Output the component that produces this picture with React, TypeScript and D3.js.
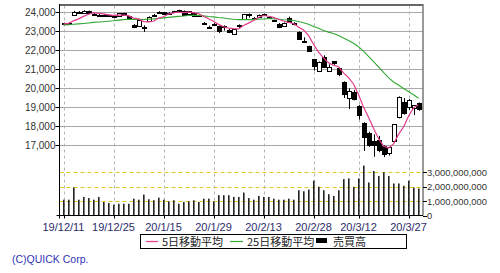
import React from "react";
import * as d3 from "d3";

const dates = [
  "2019-12-11","2019-12-12","2019-12-13","2019-12-16","2019-12-17","2019-12-18","2019-12-19","2019-12-20","2019-12-23","2019-12-24","2019-12-25","2019-12-26","2019-12-27","2019-12-30",
  "2020-01-06","2020-01-07","2020-01-08","2020-01-09","2020-01-10","2020-01-14","2020-01-15","2020-01-16","2020-01-17","2020-01-20","2020-01-21","2020-01-22","2020-01-23","2020-01-24","2020-01-27","2020-01-28","2020-01-29","2020-01-30","2020-01-31",
  "2020-02-03","2020-02-04","2020-02-05","2020-02-06","2020-02-07","2020-02-10","2020-02-12","2020-02-13","2020-02-14","2020-02-17","2020-02-18","2020-02-19","2020-02-20","2020-02-21","2020-02-25","2020-02-26","2020-02-27","2020-02-28",
  "2020-03-02","2020-03-03","2020-03-04","2020-03-05","2020-03-06","2020-03-09","2020-03-10","2020-03-11","2020-03-12","2020-03-13","2020-03-16","2020-03-17","2020-03-18","2020-03-19","2020-03-23","2020-03-24","2020-03-25","2020-03-26","2020-03-27","2020-03-30","2020-03-31",
];

const opens = [
  23400,23420,23840,24010,23970,24050,23900,23860,23850,23850,23810,23800,23940,23770,
  23320,23260,23220,23530,23800,23950,23990,23960,24000,24080,24060,23900,23960,23800,23430,23160,23300,23250,23240,
  23050,22840,23290,23620,23900,23700,23720,23880,23750,23560,23380,23270,23700,23440,22950,22460,22200,21520,
  20880,21650,20900,21400,21050,20330,19480,19800,19060,18180,17650,17200,17250,16950,16570,17200,18450,19260,19020,18950,19220,
];
const highs = [
  23440,23470,24060,24050,24090,24080,23950,23900,23880,23870,23830,23930,23960,23780,
  23370,23580,23300,23770,23900,24040,24000,23990,24060,24120,24080,24050,23980,23850,23470,23280,23420,23280,23300,
  23100,23100,23350,23900,23920,23730,23870,23910,23770,23600,23420,23450,23760,23460,22980,22670,22230,21530,
  21400,21720,21250,21420,21080,20350,19990,19900,19100,18200,17700,17560,17480,17000,16900,18100,19560,19470,19420,19100,19240,
];
const lows = [
  23350,23380,23800,23930,23950,23900,23840,23780,23800,23800,23760,23790,23830,23640,
  23200,23250,22950,23520,23780,23900,23870,23880,23980,24050,23850,23880,23770,23760,23320,23110,23290,22890,23020,
  22890,22820,23150,23600,23700,23620,23700,23800,23640,23480,23150,23250,23450,23300,22580,22400,21900,20920,
  20840,21080,20850,21220,20620,19470,18890,19350,18340,16690,16900,16380,16620,16360,16440,17100,18400,18600,18840,18580,18800,
];
const closes = [
  23391,23424,24023,23952,24066,23934,23864,23816,23821,23830,23782,23924,23837,23656,
  23204,23575,23204,23739,23850,24025,23916,23933,24041,24083,23864,24031,23795,23827,23343,23215,23379,22977,23205,
  22971,23084,23319,23873,23827,23685,23861,23827,23687,23523,23194,23400,23479,23386,22605,22426,21948,21142,
  21344,21082,21100,21329,20749,19698,19867,19416,18559,17431,17002,17011,16726,16552,16887,18092,19546,18664,19389,19084,18917,
];
// closes of the 24 trading days before the first date (needed for the moving averages)
const priorCloses = [
  23330,23391,23331,23520,23319,23141,23303,23416,23292,23148,23038,23112,
  23292,23373,23437,23409,23293,23529,23379,23135,23300,23354,23430,23410,
];
// trading volume, millions of shares
const volumes = [
  1090,1090,1930,1090,1280,1200,1090,1280,930,860,740,810,810,810,
  1160,1090,1440,1120,1050,1230,1090,980,1050,810,930,980,1050,930,1160,1160,980,1400,1400,
  1400,1280,1280,1580,1200,1090,1350,1280,1280,1160,1090,1090,1160,1090,1740,1670,1790,2400,
  1980,1740,1470,1350,1740,2510,2560,1980,2560,3440,2280,3070,2720,2980,2720,2210,2210,2050,2400,1930,1860,
];

const xTickDates = ["2019-12-11","2019-12-25","2020-01-15","2020-01-29","2020-02-13","2020-02-28","2020-03-12","2020-03-27"];
const xTickLabels = ["19/12/11","19/12/25","20/1/15","20/1/29","20/2/13","20/2/28","20/3/12","20/3/27"];
const priceTicks = [24000,23000,22000,21000,20000,19000,18000,17000];
const volumeTicks = [0,1000,2000,3000];
const legendLabels = ["5日移動平均","25日移動平均","売買高"];

const PINK = "#e33a8c";
const GREEN = "#33a833";

function movingAvg(n: number) {
  const all = priorCloses.concat(closes);
  const off = priorCloses.length;
  return closes.map((_, i) => d3.mean(all.slice(off + i - n + 1, off + i + 1)) as number);
}

export default function App() {
  const L = 59.5, R = 423, T = 5.5, B = 215.5;
  const x = d3.scalePoint<string>().domain(dates).range([63.5, 418.5]);
  const y = d3.scaleLinear().domain([17000, 24000]).range([145, 12]);
  const yv = d3.scaleLinear().domain([0, 3000]).range([215.5, 172]);
  const ma5 = movingAvg(5);
  const ma25 = movingAvg(25);
  const line = d3.line<number>().x((_, i) => x(dates[i]) as number).y((d) => y(d));
  const fmt = d3.format(",");
  const font = "'Liberation Sans', Arial, sans-serif";
  const cjk = "'Noto Sans CJK JP', sans-serif";

  return (
    <svg width={500} height={273} style={{ position: "fixed", left: 0, top: 0, background: "#fff" }}>
      <rect x={0} y={0} width={500} height={273} fill="#fff" />
      {/* price gridlines */}
      {priceTicks.map((p) => (
        <line key={"pg" + p} x1={L} x2={R} y1={Math.round(y(p)) + 0.5} y2={Math.round(y(p)) + 0.5} stroke="#a8a8a8" strokeWidth={1} />
      ))}
      {/* volume gridlines */}
      {volumeTicks.slice(1).map((v) => (
        <line key={"vg" + v} x1={L} x2={R} y1={Math.round(yv(v)) + 0.5} y2={Math.round(yv(v)) + 0.5} stroke="#e6c619" strokeWidth={1} strokeDasharray="4,3" />
      ))}
      {/* vertical dashed gridlines */}
      {xTickDates.map((d) => (
        <line key={"vx" + d} x1={Math.round(x(d) as number) + 0.5} x2={Math.round(x(d) as number) + 0.5} y1={T} y2={B} stroke="#b4b4b4" strokeWidth={1} strokeDasharray="3,3" />
      ))}
      {/* volume bars */}
      {volumes.map((v, i) => (
        <rect key={"v" + i} x={(x(dates[i]) as number) - 0.5} y={yv(v)} width={1.6} height={yv(0) - yv(v)} fill="#222" />
      ))}
      {/* candles */}
      {dates.map((d, i) => {
        const cx = Math.round(x(d) as number) + 0.5;
        const up = closes[i] >= opens[i];
        const top = Math.round(y(Math.max(opens[i], closes[i])));
        const bot = Math.round(y(Math.min(opens[i], closes[i])));
        return (
          <g key={"c" + i}>
            <line x1={cx} x2={cx} y1={y(highs[i])} y2={y(lows[i])} stroke="#000" strokeWidth={1} />
            <rect x={cx - 2} y={top + 0.5} width={4} height={Math.max(bot - top, 1)} fill={up ? "#fff" : "#000"} stroke="#000" strokeWidth={1} />
          </g>
        );
      })}
      {/* moving averages */}
      <path d={line(ma25) || ""} fill="none" stroke={GREEN} strokeWidth={1.1} />
      <path d={line(ma5) || ""} fill="none" stroke={PINK} strokeWidth={1.2} />
      {/* frame */}
      <line x1={L} x2={R} y1={5} y2={5} stroke="#666" strokeWidth={2} />
      <line x1={R} x2={R} y1={4} y2={B} stroke="#777" strokeWidth={1.5} />
      <line x1={L} x2={L} y1={4} y2={B + 3} stroke="#000" strokeWidth={1} />
      <line x1={L - 3} x2={R} y1={B} y2={B} stroke="#000" strokeWidth={1} />
      {/* price axis */}
      {priceTicks.map((p) => (
        <g key={"pt" + p}>
          <line x1={L - 4} x2={L} y1={Math.round(y(p)) + 0.5} y2={Math.round(y(p)) + 0.5} stroke="#000" />
          <text x={L - 4} y={y(p) + 3.5} textAnchor="end" fontFamily={font} fontSize={10} fill="#333">{fmt(p)}</text>
        </g>
      ))}
      {/* volume axis */}
      {volumeTicks.map((v) => (
        <g key={"vt" + v}>
          <line x1={R} x2={R + 4} y1={Math.round(yv(v)) + 0.5} y2={Math.round(yv(v)) + 0.5} stroke="#000" />
          <text x={R + 4} y={yv(v) + 3.5} textAnchor="start" fontFamily={font} fontSize={9.4} fill="#333">{fmt(v * 1e6)}</text>
        </g>
      ))}
      {/* x axis */}
      {xTickDates.map((d, i) => (
        <g key={"xt" + d}>
          <line x1={Math.round(x(d) as number) + 0.5} x2={Math.round(x(d) as number) + 0.5} y1={B} y2={B + 3} stroke="#000" />
          <text x={x(d) as number} y={231} textAnchor="middle" fontFamily={font} fontSize={11} fill="#2b2b6b">{xTickLabels[i]}</text>
        </g>
      ))}
      {/* legend */}
      <rect x={140.5} y={234.5} width={266} height={14} fill="#fff" stroke="#000" strokeWidth={1} />
      <line x1={146} x2={158} y1={241.5} y2={241.5} stroke={PINK} strokeWidth={1.2} />
      <text x={162} y={245.5} fontFamily={cjk} fontSize={11} fill="#222">{legendLabels[0]}</text>
      <line x1={230} x2={243} y1={241.5} y2={241.5} stroke={GREEN} strokeWidth={1.2} />
      <text x={247} y={245.5} fontFamily={cjk} fontSize={11} fill="#222">{legendLabels[1]}</text>
      <rect x={316} y={238} width={11} height={5} fill="#000" />
      <text x={333} y={245.5} fontFamily={cjk} fontSize={11} fill="#222">{legendLabels[2]}</text>
      {/* copyright */}
      <text x={12} y={263} fontFamily={font} fontSize={10.5} fill="#3333b8">(C)QUICK Corp.</text>
    </svg>
  );
}
